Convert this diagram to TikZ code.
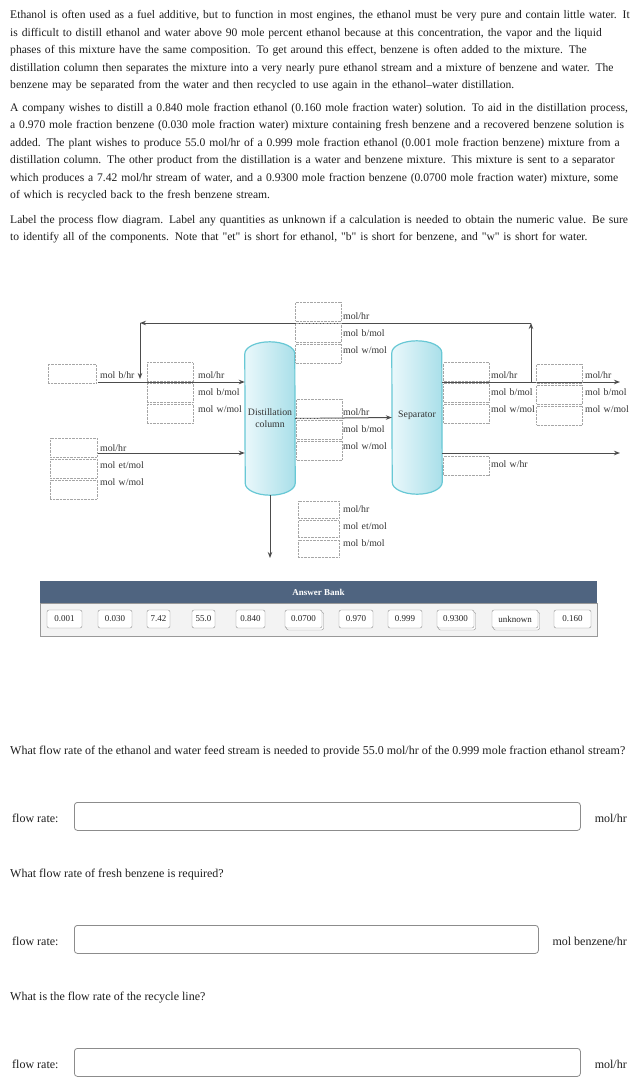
\documentclass[tikz,border=0pt]{standalone}
\usepackage{fontspec}
\setmainfont{Liberation Serif}
\newfontfamily\plainq{Liberation Serif}
\newcommand{\qtd}[1]{{\plainq"}#1{\plainq"}}
\usepackage{xcolor}
\usepackage{tikz}
\usetikzlibrary{arrows.meta,positioning,calc,backgrounds,shadows}

\definecolor{inktext}{HTML}{1E1E1E}
\definecolor{vesseledge}{HTML}{68C8D5}
\definecolor{vesselleft}{HTML}{EAF8FB}
\definecolor{vesselmid}{HTML}{DCF3F7}
\definecolor{vesselright}{HTML}{A9DFE9}
\definecolor{bankblue}{HTML}{4F6480}
\definecolor{bankgray}{HTML}{F3F3F3}

\begin{document}
\begin{tikzpicture}[
  x=1pt, y=-1pt,
  para/.style={anchor=base west, inner sep=0, text width=700pt, align=left, text=inktext, font=\fontsize{11.6}{17.5}\selectfont},
  ansbox/.style={draw=black!35, densely dotted, line width=0.4pt, minimum width=46pt, minimum height=19pt, inner sep=0},
  unitlbl/.style={anchor=base west, inner sep=0, text width=70pt, align=left, text=black!80, font=\fontsize{9.8}{17}\selectfont},
  stream/.style={draw=black!70, line width=1pt, -{Stealth[length=6pt,width=4.5pt]}},
  vessel/.style={minimum width=50pt, minimum height=153pt, inner sep=0, align=center, text=black!80, font=\fontsize{9.8}{12}\selectfont},
  vesselwall/.style={left color=vesselleft, middle color=vesselmid, right color=vesselright, draw=vesseledge, line width=1.2pt},
  bankhead/.style={fill=bankblue, text=white, minimum width=557pt, minimum height=22pt, inner sep=0, font=\bfseries\fontsize{9}{10}\selectfont},
  bankbody/.style={fill=bankgray, draw=black!40, minimum width=557pt, minimum height=33pt, inner sep=0},
  ansbtn/.style={draw=black!45, fill=white, rounded corners=2pt, minimum height=18pt, inner sep=0, font=\fontsize{9}{10}\selectfont, text=black!85},
  ansbtnused/.style={ansbtn, copy shadow={shadow xshift=1.5pt, shadow yshift=-2pt}},
  question/.style={anchor=base west, inner sep=0, text=inktext, font=\fontsize{12}{14}\selectfont},
  field/.style={draw=black!45, fill=white, rounded corners=3pt, line width=0.8pt, minimum height=28pt, inner sep=0}
]
\path[use as bounding box] (0,0) rectangle (638,1088);

% problem statement
\node[para] (intro) at (10,18.5) {Ethanol is often used as a fuel additive, but to function in most engines, the ethanol must be very pure and contain little water. It\\
is difficult to distill ethanol and water above 90 mole percent ethanol because at this concentration, the vapor and the liquid\\
phases of this mixture have the same composition. To get around this effect, benzene is often added to the mixture. The\\
distillation column then separates the mixture into a very nearly pure ethanol stream and a mixture of benzene and water. The\\
benzene may be separated from the water and then recycled to use again in the ethanol--water distillation.};
\node[para] (task) at (10,111) {A company wishes to distill a 0.840 mole fraction ethanol (0.160 mole fraction water) solution. To aid in the distillation process,\\
a 0.970 mole fraction benzene (0.030 mole fraction water) mixture containing fresh benzene and a recovered benzene solution is\\
added. The plant wishes to produce 55.0 mol/hr of a 0.999 mole fraction ethanol (0.001 mole fraction benzene) mixture from a\\
distillation column. The other product from the distillation is a water and benzene mixture. This mixture is sent to a separator\\
which produces a 7.42 mol/hr stream of water, and a 0.9300 mole fraction benzene (0.0700 mole fraction water) mixture, some\\
of which is recycled back to the fresh benzene stream.};
\node[para] (hint) at (10,223) {Label the process flow diagram. Label any quantities as unknown if a calculation is needed to obtain the numeric value. Be sure\\
to identify all of the components. Note that \qtd{et} is short for ethanol, \qtd{b} is short for benzene, and \qtd{w} is short for water.};

% units
\node[vessel] (dc) at (270,418.5) {Distillation\\column};
\node[vessel] (sep) at (417,417.5) {\raisebox{7pt}{Separator}};
\begin{scope}[on background layer]
\fill[white] (0,0) rectangle (638,1088);
\foreach \v in {dc,sep}
  \path[vesselwall] ([yshift=-12pt]\v.north west) arc[start angle=180, end angle=0, x radius=25pt, y radius=12pt]
    -- ([yshift=12pt]\v.south east) arc[start angle=0, end angle=-180, x radius=25pt, y radius=12pt] -- cycle;
\end{scope}

% stream ends
\coordinate (fbin) at (98,382);
\coordinate (efin) at (98,453);
\coordinate (split) at (531,382);
\coordinate (rectop) at (531,323);
\coordinate (recleft) at (140,323);
\coordinate (mix) at (140,379);
\coordinate (prodout) at (620,382);
\coordinate (wout) at (620,453);
\coordinate (etout) at (270,558);

\draw[stream] (fbin) -- (fbin -| dc.west);
\draw[stream] (efin) -- (efin -| dc.west);
\draw[stream] (dc.east) -- (sep.west);
\draw[stream] (split -| sep.east) -- (prodout);
\draw[stream] (wout -| sep.east) -- (wout);
\draw[stream] (dc.south) -- (etout);
\draw[stream] (split) -- (rectop);
\draw[stream] (rectop) -- (recleft);
\draw[stream] (recleft) -- (mix);

% answer slots
\node[ansbox, minimum width=48pt] (fb1) at (72,373.5) {};
\node[unitlbl] (fbu) at (100,378.5) {mol b/hr};

\node[ansbox] (bf1) at (170,372) {};
\node[ansbox, below=1.5pt of bf1] (bf2) {};
\node[ansbox, below=1.5pt of bf2] (bf3) {};
\node[unitlbl] (bfu) at (198,378.5) {mol/hr\\mol b/mol\\mol w/mol};

\node[ansbox, minimum width=47pt] (ef1) at (73.5,447.5) {};
\node[ansbox, minimum width=47pt, below=1.5pt of ef1] (ef2) {};
\node[ansbox, minimum width=47pt, below=1.5pt of ef2] (ef3) {};
\node[unitlbl] (efu) at (100,451.5) {mol/hr\\mol et/mol\\mol w/mol};

\node[ansbox] (rc1) at (318.5,311.5) {};
\node[ansbox, below=1.5pt of rc1] (rc2) {};
\node[ansbox, below=1.5pt of rc2] (rc3) {};
\node[unitlbl] (rcu) at (343,319.5) {mol/hr\\mol b/mol\\mol w/mol};

\node[ansbox] (ds1) at (319.5,408.5) {};
\node[ansbox, below=1.5pt of ds1] (ds2) {};
\node[ansbox, below=1.5pt of ds2] (ds3) {};
\node[unitlbl] (dsu) at (343,415.5) {mol/hr\\mol b/mol\\mol w/mol};

\node[ansbox] (so1) at (466.5,372) {};
\node[ansbox, below=1.5pt of so1] (so2) {};
\node[ansbox, below=1.5pt of so2] (so3) {};
\node[unitlbl] (sou) at (491,378.5) {mol/hr\\mol b/mol\\mol w/mol};

\node[ansbox] (po1) at (559.5,373.5) {};
\node[ansbox, below=1.5pt of po1] (po2) {};
\node[ansbox, below=1.5pt of po2] (po3) {};
\node[unitlbl] (pou) at (585,378.5) {mol/hr\\mol b/mol\\mol w/mol};

\node[ansbox] (wo1) at (466.5,466) {};
\node[unitlbl] (wou) at (491,467.5) {mol w/hr};

\node[ansbox, minimum width=41pt, minimum height=17pt] (et1) at (318.5,509.5) {};
\node[ansbox, minimum width=41pt, minimum height=17pt, below=2pt of et1] (et2) {};
\node[ansbox, minimum width=41pt, minimum height=17pt, below=2pt of et2] (et3) {};
\node[unitlbl] (etu) at (343,512.5) {mol/hr\\mol et/mol\\mol b/mol};

% answer bank
\node[bankhead] (bankhead) at (318.5,592) {Answer Bank};
\node[bankbody, below=0pt of bankhead] (bankbody) {};
\foreach \val/\cx/\bw/\sty [count=\n] in {0.001/64.5/35/ansbtn, 0.030/115/34/ansbtn, 7.42/158.5/23/ansbtn, 55.0/203.5/23/ansbtn, 0.840/250.5/29/ansbtn, 0.0700/303.5/37/ansbtnused, 0.970/356/34/ansbtn, 0.999/405/34/ansbtn, 0.9300/455.5/37/ansbtnused, unknown/515/46/ansbtnused, 0.160/572.5/37/ansbtn}
  \node[\sty, minimum width=\bw pt] (ans\n) at (\cx,619) {\val};

% questions
\node[question] (q1) at (10,754) {What flow rate of the ethanol and water feed stream is needed to provide 55.0 mol/hr of the 0.999 mole fraction ethanol stream?};
\node[question, anchor=west] (q1l) at (12,818) {flow rate:};
\node[field, minimum width=506pt, anchor=north west] (q1f) at (74,802) {};
\node[question, anchor=east] (q1u) at (627,818) {mol/hr};

\node[question] (q2) at (10,877) {What flow rate of fresh benzene is required?};
\node[question, anchor=west] (q2l) at (12,941) {flow rate:};
\node[field, minimum width=464pt, anchor=north west] (q2f) at (74,925) {};
\node[question, anchor=east] (q2u) at (627,941) {mol benzene/hr};

\node[question] (q3) at (10,1000) {What is the flow rate of the recycle line?};
\node[question, anchor=west] (q3l) at (12,1064) {flow rate:};
\node[field, minimum width=506pt, anchor=north west] (q3f) at (74,1048) {};
\node[question, anchor=east] (q3u) at (627,1064) {mol/hr};
\end{tikzpicture}
\end{document}
